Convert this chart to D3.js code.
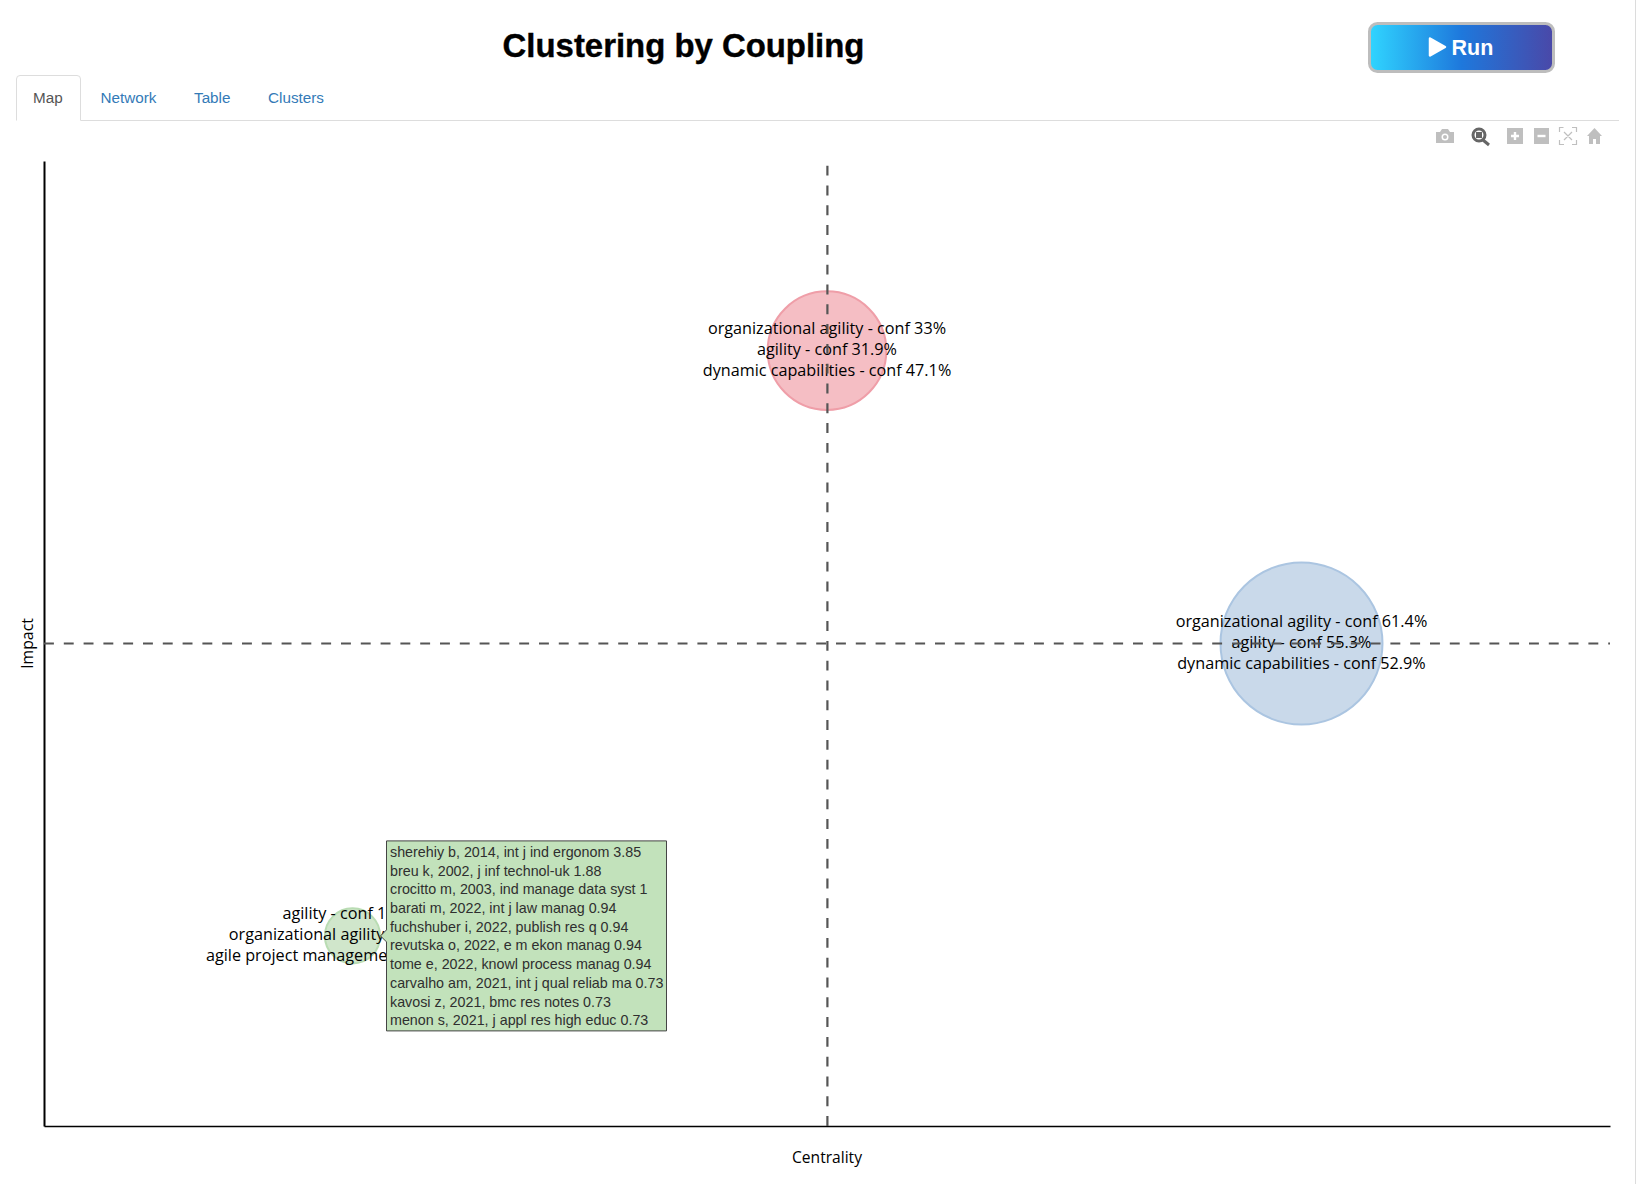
<!DOCTYPE html>
<html><head><meta charset="utf-8">
<script src="https://cdn.jsdelivr.net/npm/d3@7"></script>
<style>
html,body{margin:0;padding:0;background:#fff;overflow:hidden}
svg{display:block}
text{white-space:pre}
</style></head><body>
<div id="chart"></div>
<script>
const chartTitle = "Clustering by Coupling";
const tabNames = ["Map","Network","Table","Clusters"];
const clusterCentrality = [-0.606, 0, 0.606];
const clusterImpact = [-0.606, 0.607, 0];
const clusterFreq = [8, 37, 69];
const clusterLabels = [
  ["agility - conf 12.5%","organizational agility - conf 100%","agile project management - conf 62.5%"],
  ["organizational agility - conf 33%","agility - conf 31.9%","dynamic capabilities - conf 47.1%"],
  ["organizational agility - conf 61.4%","agility - conf 55.3%","dynamic capabilities - conf 52.9%"]
];
const clusterFill = ["#d0e6cb","#f5bec4","#c9d9ea"];
const clusterStroke = ["#b9dcb3","#ef9ea8","#abc5e1"];
const hoverDocs = [
  "sherehiy b, 2014, int j ind ergonom 3.85","breu k, 2002, j inf technol-uk 1.88",
  "crocitto m, 2003, ind manage data syst 1","barati m, 2022, int j law manag 0.94",
  "fuchshuber i, 2022, publish res q 0.94","revutska o, 2022, e m ekon manag 0.94",
  "tome e, 2022, knowl process manag 0.94","carvalho am, 2021, int j qual reliab ma 0.73",
  "kavosi z, 2021, bmc res notes 0.73","menon s, 2021, j appl res high educ 0.73"
];

const W=1636,H=1184;
const svg=d3.select("#chart").append("svg").attr("width",W).attr("height",H);
const labelFont='"Open Sans",sans-serif', uiFont='"Liberation Sans",Arial,sans-serif';

// page edge
svg.append("line").attr("x1",1635.5).attr("x2",1635.5).attr("y1",0).attr("y2",H).attr("stroke","#dcdcdc");

// page header
svg.append("text").attr("x",683.5).attr("y",57).attr("text-anchor","middle")
  .attr("font-family",uiFont).attr("font-weight",700).attr("font-size",32.9).attr("fill","#000")
  .attr("stroke","#000").attr("stroke-width",0.4).text(chartTitle);

// run button
const defs=svg.append("defs");
const g=defs.append("linearGradient").attr("id","runGrad");
[[0,"#30d5ff"],[0.5,"#1e78dc"],[1,"#4a48a8"]].forEach(s=>g.append("stop").attr("offset",s[0]).attr("stop-color",s[1]));
svg.append("rect").attr("x",1369.5).attr("y",23.5).attr("width",184).attr("height",48).attr("rx",8)
  .attr("fill","url(#runGrad)").attr("stroke","#bdbdbd").attr("stroke-width",3);
svg.append("path").attr("d","M1430 38.5 L1445 47 L1430 55.5 Z").attr("fill","#fff").attr("stroke","#fff").attr("stroke-width",2.5).attr("stroke-linejoin","round");
svg.append("text").attr("x",1451.5).attr("y",55).attr("font-family",uiFont).attr("font-weight",700).attr("font-size",21.5).attr("fill","#fff").text("Run");

// tabs
svg.append("path").attr("d","M80.5 120.5 H1619").attr("stroke","#ddd").attr("fill","none");
svg.append("path").attr("d","M16.5 120.5 V79 Q16.5 75.5 20 75.5 H77 Q80.5 75.5 80.5 79 V120.5").attr("stroke","#ddd").attr("fill","#fff");
const tabX=[33,100.5,194,268];
svg.selectAll("text.tab").data(tabNames).join("text").attr("class","tab")
  .attr("x",(d,i)=>tabX[i]).attr("y",103).attr("font-family",uiFont).attr("font-size",15.25)
  .attr("fill",(d,i)=>i===0?"#555":"#337ab7").text(d=>d);

// modebar
const mb=svg.append("g").attr("fill","#bfbfbf");
mb.append("path").attr("d","M1436 132 h4 l2 -3 h6 l2 3 h4 v11 h-18 z");
mb.append("circle").attr("cx",1445).attr("cy",137).attr("r",3.5).attr("fill","#fff");
mb.append("circle").attr("cx",1445).attr("cy",137).attr("r",2);
mb.append("circle").attr("cx",1479).attr("cy",135).attr("r",6).attr("fill","none").attr("stroke","#666").attr("stroke-width",3);
mb.append("rect").attr("x",1476).attr("y",132).attr("width",6).attr("height",6).attr("fill","#666");
mb.append("path").attr("d","M1483 140 L1489 145").attr("stroke","#666").attr("stroke-width",3);
mb.append("rect").attr("x",1507).attr("y",128).attr("width",16).attr("height",16);
mb.append("path").attr("d","M1515 132 v8 M1511 136 h8").attr("stroke","#fff").attr("stroke-width",2.4);
mb.append("rect").attr("x",1534).attr("y",128).attr("width",15).attr("height",16);
mb.append("path").attr("d","M1537.5 136 h8").attr("stroke","#fff").attr("stroke-width",2.4);
mb.append("path").attr("fill","none").attr("stroke","#bfbfbf").attr("stroke-width",1.2)
  .attr("d","M1559.5 132 v-4.5 h4 M1572 127.5 h4.5 v4.5 M1576.5 140 v4.5 h-4.5 M1564 144.5 h-4.5 v-4.5 M1564 132 l8 8 M1572 132 l-8 8");
mb.append("path").attr("d","M1587 136 L1594.5 128 L1602 136 h-2 v8 h-4 v-5 h-3 v5 h-4 v-8 z");

// scales
const x=d3.scaleLinear().domain([-1,1]).range([44,1610]);
const y=d3.scaleLinear().domain([-1,1]).range([1126,161]);
const r=d3.scaleSqrt().domain([0,d3.max(clusterFreq)]).range([0,81]);
const clusters=clusterFreq.map((f,i)=>({f,cx:clusterCentrality[i],cy:clusterImpact[i],labels:clusterLabels[i],fill:clusterFill[i],stroke:clusterStroke[i]}));

// bubbles
svg.append("g").selectAll("circle").data(clusters).join("circle")
  .attr("cx",d=>x(d.cx)).attr("cy",d=>y(d.cy)).attr("r",d=>r(d.f))
  .attr("fill",d=>d.fill).attr("stroke",d=>d.stroke).attr("stroke-width",2);

// labels
const lab=svg.append("g").attr("font-family",labelFont).attr("font-size",16.2).attr("fill","#000").attr("text-anchor","middle");
clusters.forEach(c=>{
  c.labels.forEach((t,j)=>{
    lab.append("text").attr("x",x(c.cx)).attr("y",y(c.cy)+(j-1)*21+4.1).text(t);
  });
});

// axes
const axB=d3.axisBottom(x).tickValues([]).tickSizeOuter(0);
const axL=d3.axisLeft(y).tickValues([]).tickSizeOuter(0);
const gb=svg.append("g").attr("transform","translate(0,1126)").call(axB);
const gl=svg.append("g").attr("transform","translate(44,0)").call(axL);
gb.select(".domain").attr("stroke","#000").attr("stroke-width",1.6);
gl.select(".domain").attr("stroke","#000").attr("stroke-width",2);
svg.append("text").attr("x",x(0)).attr("y",1163).attr("text-anchor","middle").attr("font-family",labelFont).attr("font-size",15.6).attr("fill","#000").text("Centrality");
svg.append("text").attr("transform",`translate(33,${y(0)}) rotate(-90)`).attr("text-anchor","middle").attr("font-family",labelFont).attr("font-size",15.8).attr("fill","#000").text("Impact");

// quadrant lines
svg.append("line").attr("x1",x(-1)).attr("x2",x(1)).attr("y1",y(0)).attr("y2",y(0))
  .attr("stroke","#555").attr("stroke-width",2.2).attr("stroke-dasharray","9.9,9.9");
svg.append("line").attr("x1",x(0)+0.4).attr("x2",x(0)+0.4).attr("y1",y(-1)).attr("y2",y(1))
  .attr("stroke","#555").attr("stroke-width",2.2).attr("stroke-dasharray","9.9,9.9");

// hover tooltip
const tip=svg.append("g").attr("transform",`translate(386.5,${y(-0.606)})`);
tip.append("path").attr("d","M-6 0 L0 -6 V-95 H280 V95 H0 V6 Z").attr("fill","#c2e2bb").attr("stroke","#444").attr("stroke-width",1);
tip.selectAll("text").data(hoverDocs).join("text")
  .attr("x",3.5).attr("y",(d,i)=>-79+i*18.72).attr("font-family",uiFont).attr("font-size",14.3).attr("fill","#2f2f2f").text(d=>d);
</script>
</body></html>
